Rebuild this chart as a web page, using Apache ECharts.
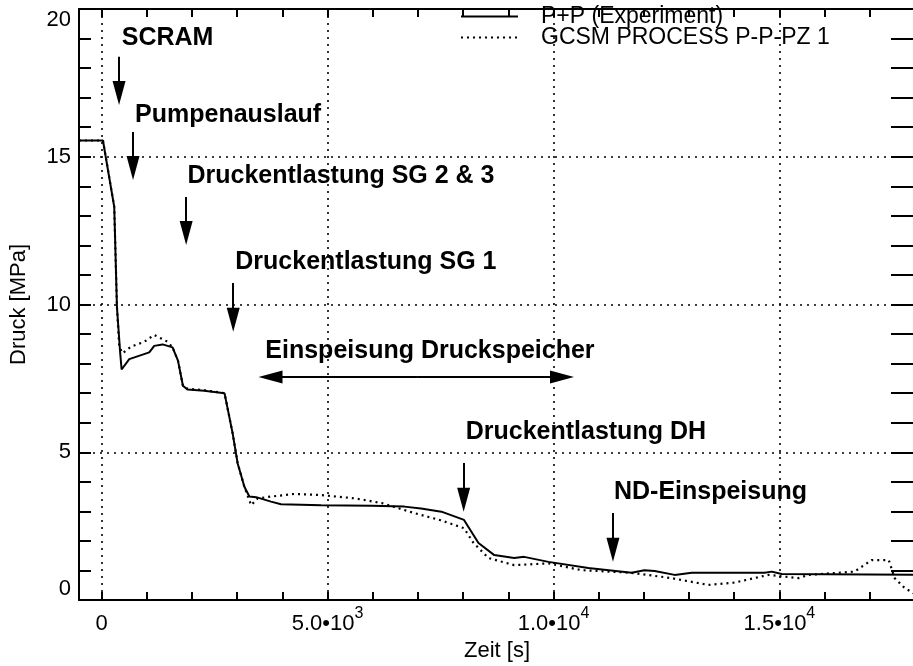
<!DOCTYPE html>
<html>
<head>
<meta charset="utf-8">
<script src="https://cdn.jsdelivr.net/npm/echarts@6/dist/echarts.min.js"></script>
<style>
  html, body { margin: 0; background: #fff; }
  #chart { width: 913px; height: 666px; }
</style>
</head>
<body>
<div id="chart"></div>
<script>
// Druckverlauf, P+P Experiment vs. GCSM PROCESS (Zeit [s], Druck [MPa])
const experiment = [
  [-500, 15.55], [30, 15.55], [280, 13.3], [340, 9.9], [412, 8.35], [443, 7.8],
  [612, 8.15], [1055, 8.38], [1165, 8.6], [1350, 8.65], [1570, 8.55], [1690, 8.1],
  [1800, 7.25], [1900, 7.12], [2270, 7.08], [2720, 7.0], [2760, 6.94], [2900, 5.64],
  [3010, 4.63], [3160, 3.83], [3270, 3.5], [3420, 3.48], [3750, 3.33], [3970, 3.24],
  [4860, 3.21], [5970, 3.19], [6700, 3.16], [7070, 3.1], [7520, 2.99], [8020, 2.71],
  [8340, 1.93], [8690, 1.52], [9130, 1.42], [9350, 1.46], [9890, 1.29], [10770, 1.08],
  [11730, 0.92], [12010, 1.01], [12240, 0.98], [12680, 0.85], [13060, 0.92], [14670, 0.92],
  [14830, 0.96], [15050, 0.88], [18000, 0.85]
];
const gcsm = [
  [-500, 15.55], [30, 15.55], [280, 13.3], [340, 9.9], [390, 8.57], [465, 8.35],
  [650, 8.57], [945, 8.74], [1165, 8.97], [1460, 8.74], [1570, 8.55], [1690, 8.1],
  [1800, 7.25], [1900, 7.15], [2270, 7.1], [2720, 7.0], [2760, 6.94], [2900, 5.64],
  [3010, 4.63], [3160, 3.83], [3310, 3.21], [3455, 3.44], [3750, 3.5], [4270, 3.59],
  [4860, 3.55], [5600, 3.44], [6200, 3.28], [6920, 2.94], [7500, 2.7], [8020, 2.43],
  [8230, 1.93], [8560, 1.42], [9130, 1.18], [9890, 1.24], [10620, 1.01], [11730, 0.92],
  [12610, 0.74], [13430, 0.51], [14010, 0.59], [14760, 0.85], [15420, 0.74], [15650, 0.85],
  [16660, 0.96], [17040, 1.35], [17420, 1.35], [17550, 0.74], [17770, 0.41], [18000, 0.2]
];

const xLabelValues = [0, 5000, 10000, 15000];
const xTickValues = [0, 1000, 2000, 3000, 4000, 5000, 6000, 7000, 8000, 9000,
  10000, 11000, 12000, 13000, 14000, 15000, 16000, 17000, 18000];

// Ereignisse: Text (linke Kante, Mitte) und Pfeile (Start -> Pfeilspitze-Mitte)
const notes = [
  { name: 'SCRAM', value: [446, 19.0] },
  { name: 'Pumpenauslauf', value: [740, 16.41] },
  { name: 'Druckentlastung SG 2 & 3', value: [1900, 14.35] },
  { name: 'Druckentlastung SG 1', value: [2958, 11.42] },
  { name: 'Einspeisung Druckspeicher', value: [3623, 8.43] },
  { name: 'Druckentlastung DH', value: [8057, 5.67] },
  { name: 'ND-Einspeisung', value: [11338, 3.65] }
];
const arrows = [
  [[386, 18.38], [386, 17.16]],
  [[696, 15.84], [696, 14.62]],
  [[1871, 13.64], [1871, 12.42]],
  [[2913, 10.73], [2913, 9.48]],
  [[7000, 7.55], [3738, 7.55]],
  [[7000, 7.55], [10189, 7.55]],
  [[8012, 4.64], [8012, 3.39]],
  [[11316, 2.94], [11316, 1.70]]
];

const FONT = 'Liberation Sans';
const black = '#000000';

function xLabel(v) {
  if (v === 0) return '{m|0}';
  const exp = Math.floor(Math.log10(v));
  return '{m|' + (v / Math.pow(10, exp)).toFixed(1) + '•10}{s|' + exp + '}';
}

const chart = echarts.init(document.getElementById('chart'), null, { renderer: 'canvas' });
chart.setOption({
  backgroundColor: '#fff',
  animation: false,
  textStyle: { fontFamily: FONT, color: black },
  grid: { left: 79, right: -2, top: 9, bottom: 66, outerBoundsMode: 'none' },
  legend: {
    data: ['P+P (Experiment)', 'GCSM PROCESS P-P-PZ 1'],
    orient: 'vertical',
    left: 455,
    top: 0,
    itemWidth: 57,
    itemHeight: 12,
    itemGap: -2,
    itemStyle: { opacity: 0 },
    textStyle: { fontFamily: FONT, fontSize: 23, color: black, lineHeight: 19, padding: [0, 0, 0, 18] }
  },
  xAxis: [
    {
      type: 'value', position: 'bottom', min: -500, max: 18000,
      name: 'Zeit [s]', nameLocation: 'middle', nameGap: 36,
      nameTextStyle: { fontFamily: FONT, fontSize: 22, color: black },
      axisLine: { onZero: false, lineStyle: { color: black, width: 2 } },
      axisTick: { inside: true, length: 8, customValues: xTickValues, lineStyle: { color: black, width: 2 } },
      axisLabel: {
        customValues: xLabelValues, margin: 6, formatter: xLabel,
        rich: {
          m: { fontFamily: FONT, fontSize: 22, color: black, lineHeight: 36 },
          s: { fontFamily: FONT, fontSize: 16, color: black, lineHeight: 16, verticalAlign: 'top' }
        }
      },
      splitLine: { show: false }
    },
    {
      type: 'value', position: 'top', min: -500, max: 18000,
      axisLine: { onZero: false, lineStyle: { color: black, width: 2 } },
      axisTick: { inside: true, length: 8, customValues: xTickValues, lineStyle: { color: black, width: 2 } },
      axisLabel: { show: false },
      splitLine: { show: false }
    },
    {
      type: 'value', position: 'bottom', min: -500, max: 18000,
      axisLine: { show: false, onZero: false },
      axisTick: { show: false, customValues: xLabelValues },
      axisLabel: { show: false },
      splitLine: { show: true, lineStyle: { color: black, width: 1.6, type: [2, 5] } }
    }
  ],
  yAxis: [
    {
      type: 'value', position: 'left', min: 0, max: 20, interval: 5,
      name: 'Druck [MPa]', nameLocation: 'middle', nameGap: 49,
      nameTextStyle: { fontFamily: FONT, fontSize: 22, color: black },
      axisLine: { show: true, onZero: false, lineStyle: { color: black, width: 2 } },
      axisTick: { show: true, inside: true, length: 12, lineStyle: { color: black, width: 2 } },
      minorTick: { show: true, splitNumber: 5, length: 12, lineStyle: { color: black, width: 2 } },
      axisLabel: {
        fontFamily: FONT, fontSize: 22, color: black, margin: 8,
        verticalAlignMinLabel: 'bottom', verticalAlignMaxLabel: 'top'
      },
      splitLine: { show: true, lineStyle: { color: black, width: 1.6, type: [2, 5] } }
    },
    {
      type: 'value', position: 'right', min: 0, max: 20, interval: 5,
      axisLine: { show: true, onZero: false, lineStyle: { color: black, width: 2 } },
      axisTick: { show: true, inside: true, length: 24, lineStyle: { color: black, width: 2 } },
      minorTick: { show: true, splitNumber: 5, length: 24, lineStyle: { color: black, width: 2 } },
      axisLabel: { show: false },
      splitLine: { show: false }
    }
  ],
  series: [
    {
      name: 'P+P (Experiment)', type: 'line', data: experiment,
      xAxisIndex: 0, yAxisIndex: 0, symbol: 'none',
      lineStyle: { color: black, width: 2 }, itemStyle: { color: black }, z: 3
    },
    {
      name: 'GCSM PROCESS P-P-PZ 1', type: 'line', data: gcsm,
      xAxisIndex: 0, yAxisIndex: 0, symbol: 'none',
      lineStyle: { color: black, width: 2.2, type: [2, 4] }, itemStyle: { color: black }, z: 2
    },
    {
      name: 'Ereignisse', type: 'scatter', data: notes,
      xAxisIndex: 0, yAxisIndex: 0, symbolSize: 0, silent: true,
      itemStyle: { color: black, opacity: 1 },
      label: {
        show: true, position: 'right', distance: 0, formatter: '{b}',
        fontFamily: FONT, fontSize: 25, fontWeight: 'bold', color: black,
        opacity: 1, textBorderWidth: 0
      },
      markLine: {
        silent: true, animation: false,
        symbol: ['none', 'triangle'], symbolSize: [13, 24],
        label: { show: false },
        lineStyle: { color: black, width: 2, type: 'solid' },
        emphasis: { disabled: true },
        data: arrows.map(a => [{ coord: a[0] }, { coord: a[1] }])
      }
    }
  ]
});
</script>
</body>
</html>
